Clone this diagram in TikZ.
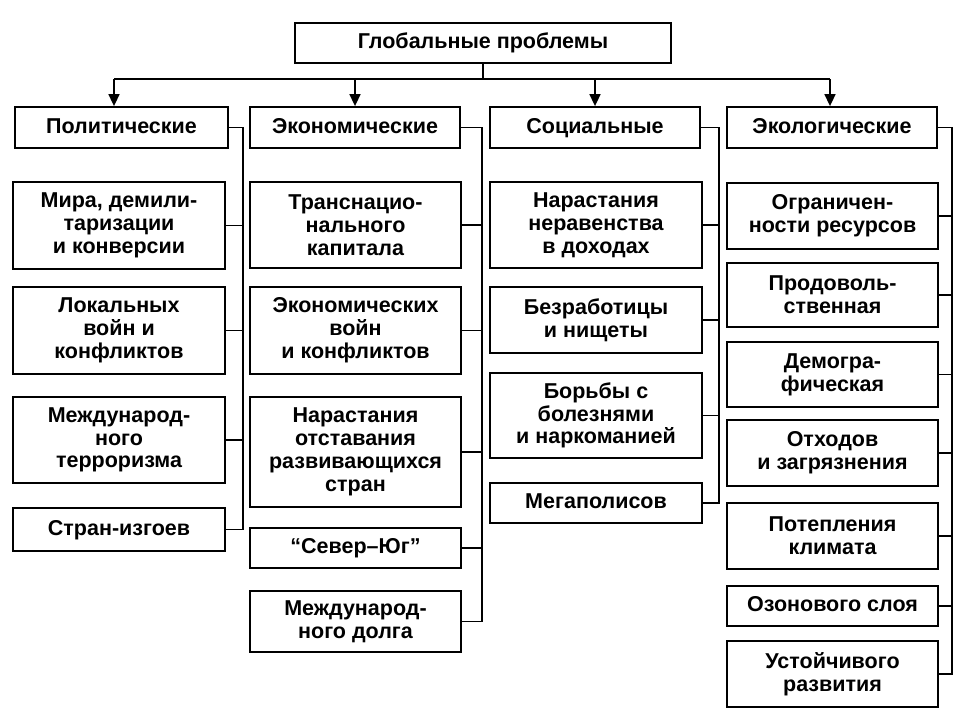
\documentclass[tikz,border=0pt]{standalone}
\usepackage{fontspec}
\setmainfont{Liberation Sans}
\usetikzlibrary{arrows.meta}
\begin{document}
\begin{tikzpicture}[x=1pt,y=-1pt,
  box/.style={draw,line width=1.8pt,align=center,inner sep=0pt,
    font=\bfseries\fontsize{21.5}{22.8}\selectfont},
  one/.style={text height=15.5pt,text depth=4.5pt},
  conn/.style={line width=1.6pt},
  arr/.style={line width=1.6pt,-{Triangle[length=12pt,width=11pt]}}]
\useasboundingbox (0,0) rectangle (960,720);
% top
\node[box,one,minimum width=376pt,minimum height=40pt] (top) at (483,43) {Глобальные проблемы};
% categories
\node[box,one,minimum width=213pt,minimum height=41pt] (pol) at (121.5,127.5) {Политические};
\node[box,one,minimum width=210pt,minimum height=41pt] (eco) at (355,127.5) {Экономические};
\node[box,one,minimum width=210pt,minimum height=41pt] (soc) at (595,127.5) {Социальные};
\node[box,one,minimum width=210pt,minimum height=41pt] (ecl) at (832,127.5) {Экологические};
% political
\node[box,minimum width=212pt,minimum height=87pt] (p1) at (119,225.5) {Мира, демили-\\таризации\\и конверсии};
\node[box,minimum width=212pt,minimum height=87pt] (p2) at (119,330.5) {Локальных\\войн и\\конфликтов};
\node[box,minimum width=212pt,minimum height=86pt] (p3) at (119,440) {Международ-\\ного\\терроризма};
\node[box,one,minimum width=212pt,minimum height=43pt] (p4) at (119,529.5) {Стран-изгоев};
% economic
\node[box,minimum width=211pt,minimum height=86pt] (e1) at (355.5,225) {Транснацио-\\нального\\капитала};
\node[box,minimum width=211pt,minimum height=87pt] (e2) at (355.5,330.5) {Экономических\\войн\\и конфликтов};
\node[box,minimum width=211pt,minimum height=110pt] (e3) at (355.5,452) {Нарастания\\отставания\\развивающихся\\стран};
\node[box,one,minimum width=211pt,minimum height=40pt] (e4) at (355.5,548) {“Север–Юг”};
\node[box,minimum width=211pt,minimum height=61pt] (e5) at (355.5,621.5) {Международ-\\ного долга};
% social
\node[box,minimum width=212pt,minimum height=86pt] (s1) at (596,225) {Нарастания\\неравенства\\в доходах};
\node[box,minimum width=212pt,minimum height=66pt] (s2) at (596,320) {Безработицы\\и нищеты};
\node[box,minimum width=212pt,minimum height=85pt] (s3) at (596,415.5) {Борьбы с\\болезнями\\и наркоманией};
\node[box,one,minimum width=212pt,minimum height=40pt] (s4) at (596,503) {Мегаполисов};
% ecological
\node[box,minimum width=211pt,minimum height=66pt] (k1) at (832.5,216) {Ограничен-\\ности ресурсов};
\node[box,minimum width=211pt,minimum height=64pt] (k2) at (832.5,295) {Продоволь-\\ственная};
\node[box,minimum width=211pt,minimum height=65pt] (k3) at (832.5,374.5) {Демогра-\\фическая};
\node[box,minimum width=211pt,minimum height=66pt] (k4) at (832.5,453) {Отходов\\и загрязнения};
\node[box,minimum width=211pt,minimum height=66pt] (k5) at (832.5,536) {Потепления\\климата};
\node[box,one,minimum width=211pt,minimum height=40pt] (k6) at (832.5,606) {Озонового слоя};
\node[box,minimum width=211pt,minimum height=66pt] (k7) at (832.5,674) {Устойчивого\\развития};
% top distribution
\coordinate (b1) at (114,79);
\coordinate (b2) at (355,79);
\coordinate (b3) at (595,79);
\coordinate (b4) at (830,79);
\draw[conn] (top.south) -- (top.south |- b1);
\draw[conn] (b1) -- (b4);
\draw[arr] (b1) -- (b1 |- pol.north);
\draw[arr] (b2) -- (b2 |- eco.north);
\draw[arr] (b3) -- (b3 |- soc.north);
\draw[arr] (b4) -- (b4 |- ecl.north);
% spines
\coordinate (sp1) at (243,0);
\coordinate (sp2) at (482,0);
\coordinate (sp3) at (719,0);
\coordinate (sp4) at (952,0);
\draw[conn] (pol.east) -| (sp1 |- p4.east) -- (p4.east);
\foreach \n in {p1,p2,p3} \draw[conn] (\n.east) -- (\n.east -| sp1);
\draw[conn] (eco.east) -| (sp2 |- e5.east) -- (e5.east);
\foreach \n in {e1,e2,e3,e4} \draw[conn] (\n.east) -- (\n.east -| sp2);
\draw[conn] (soc.east) -| (sp3 |- s4.east) -- (s4.east);
\foreach \n in {s1,s2,s3} \draw[conn] (\n.east) -- (\n.east -| sp3);
\draw[conn] (ecl.east) -| (sp4 |- k7.east) -- (k7.east);
\foreach \n in {k1,k2,k3,k4,k5,k6} \draw[conn] (\n.east) -- (\n.east -| sp4);
\end{tikzpicture}
\end{document}
